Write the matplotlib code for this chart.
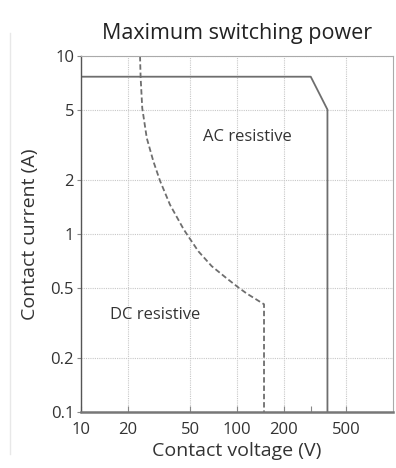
import matplotlib.pyplot as plt
from matplotlib.ticker import FixedLocator, NullFormatter, NullLocator
from matplotlib.lines import Line2D

plt.rcParams['font.family'] = ['Open Sans', 'DejaVu Sans']

# --- data ---
ac_voltage = [10, 297, 380, 380]
ac_current = [7.65, 7.65, 5.0, 0.1]

dc_voltage = [23.9, 24.1, 24.7, 26.4, 29.1, 32.1, 37.2, 45.3, 47.6, 56.5,
              68.8, 86, 102, 115, 149, 149]
dc_current = [10, 7.65, 5.09, 3.46, 2.56, 1.99, 1.46, 1.07, 1.0, 0.80,
              0.66, 0.563, 0.501, 0.464, 0.403, 0.1]

x_ticks = [10, 20, 50, 100, 200, 500]
x_minor = [300]
y_ticks = [0.1, 0.2, 0.5, 1, 2, 5, 10]
y_labels = ["0.1", "0.2", "0.5", "1", "2", "5", "10"]

line_col = "#6e6e6e"
grid_col = "#c8c8c8"

fig = plt.figure(figsize=(3.96, 4.68), dpi=100)
ax = fig.add_axes([81 / 396, 1 - 412 / 468, 312 / 396, 356 / 468])

ax.plot(ac_voltage, ac_current, color=line_col, lw=1.3)
ax.plot(dc_voltage, dc_current, color=line_col, lw=1.3, ls=(0, (3, 1.6)))

ax.set_xscale("log")
ax.set_yscale("log")
ax.set_xlim(10, 1000)
ax.set_ylim(0.1, 10)

ax.xaxis.set_major_locator(FixedLocator(x_ticks))
ax.xaxis.set_minor_locator(FixedLocator(x_minor))
ax.xaxis.set_major_formatter(plt.FixedFormatter([str(v) for v in x_ticks]))
ax.xaxis.set_minor_formatter(NullFormatter())
ax.yaxis.set_major_locator(FixedLocator(y_ticks))
ax.yaxis.set_minor_locator(NullLocator())
ax.yaxis.set_major_formatter(plt.FixedFormatter(y_labels))

ax.tick_params(axis="x", which="both", direction="in", length=4, width=0.8,
               color="#888888", labelsize=12, labelcolor="#333333", pad=7)
ax.tick_params(axis="y", direction="out", length=3, width=0.8,
               color="#888888", labelsize=12, labelcolor="#333333", pad=2)

ax.grid(True, which="major", color=grid_col, ls=(0, (1, 1)), lw=0.8)
ax.set_axisbelow(True)

ax.spines["left"].set_color("#555555")
ax.spines["left"].set_linewidth(1.0)
ax.spines["bottom"].set_color("#777777")
ax.spines["bottom"].set_linewidth(1.8)
ax.spines["top"].set_color("#aaaaaa")
ax.spines["right"].set_color("#aaaaaa")

ax.text(117, 3.5, "AC resistive", fontsize=12, color="#333333", ha="center", va="center")
ax.text(29.8, 0.35, "DC resistive", fontsize=12, color="#333333", ha="center", va="center")

ax.set_title("Maximum switching power", fontsize=15.5, color="#222222", pad=12)
ax.set_xlabel("Contact voltage (V)", fontsize=14, color="#333333", labelpad=3)
ax.set_ylabel("Contact current (A)", fontsize=14, color="#333333", labelpad=8)

# faint frame line at the left of the picture
fig.add_artist(Line2D([10 / 396, 10 / 396], [0.03, 0.93], color="#e8e8e8", lw=1))

fig.savefig("out.png", dpi=100, facecolor="white")
